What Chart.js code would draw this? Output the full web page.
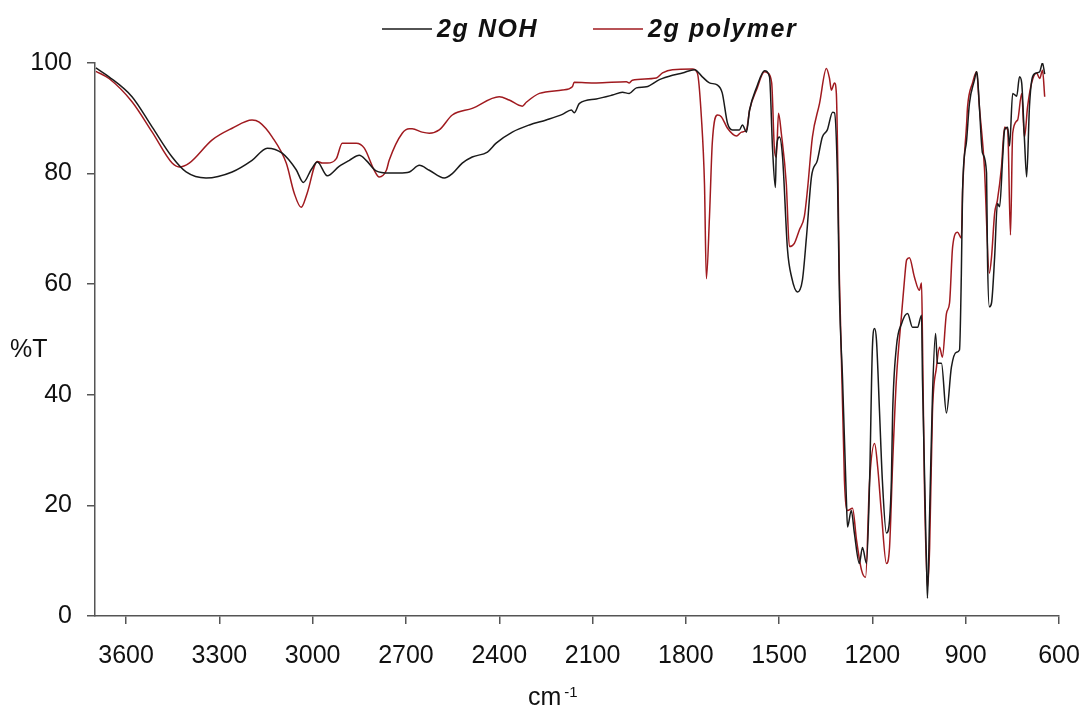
<!DOCTYPE html>
<html><head><meta charset="utf-8">
<script src="https://cdn.jsdelivr.net/npm/chart.js@4/dist/chart.umd.min.js"></script>
<style>html,body{margin:0;padding:0;background:#fff;}</style>
</head><body>
<canvas id="c" width="1087" height="708"></canvas>
<script>
// ---- DATA ----
const seriesLabels = ['2g NOH', '2g polymer'];

const nohWavenumber = [3697,3655,3581,3516,3452,3407,3343,3259,3195,3146,3098,3053,3030,3005,2985,2953,2915,2882,2850,2828,2796,2754,2722,2689,2657,2625,2577,2551,2519,2487,2438,2410,2358,2303,2249,2197,2168,2159,2142,2088,2036,2004,1982,1959,1927,1885,1843,1811,1772,1747,1724,1698,1683,1666,1650,1628,1618,1605,1595,1573,1547,1531,1521,1512,1509,1499,1489,1473,1460,1441,1425,1412,1396,1377,1361,1345,1328,1322,1312,1306,1296,1284,1280,1268,1258,1242,1232,1219,1209,1200,1193,1187,1177,1168,1155,1145,1139,1135,1123,1106,1087,1071,1055,1042,1039,1026,1023,1016,1007,997,991,978,962,946,930,920,914,910,897,888,872,865,862,856,846,833,830,824,817,807,798,791,781,775,765,759,749,736,727,720,711,704,695,685,672,662,656,653,646];
const nohTransmittance = [99.1,97.5,93.9,88.4,83.0,80.3,79.2,80.3,82.4,84.6,83.7,80.7,78.4,80.7,82.1,79.6,81.3,82.4,83.3,82.4,80.5,80.1,80.1,80.3,81.5,80.6,79.2,80.0,81.9,83.0,83.9,85.5,87.5,88.8,89.7,90.7,91.5,91.0,92.7,93.5,94.2,94.7,94.5,95.5,95.7,97.0,97.8,98.2,98.8,97.5,96.4,96.0,94.6,89.1,87.9,87.9,88.8,87.5,91.5,95.5,98.6,97.5,84.3,77.5,84.3,86.6,83.0,66.2,61.3,58.6,60.8,68.6,79.4,82.4,86.6,87.9,91.1,91.0,78.2,57.7,42.7,21.5,16.1,19.1,15.0,9.5,12.4,9.5,24.5,48.6,52.0,49.9,36.7,24.5,15.0,17.3,24.5,36.7,48.6,52.9,54.7,52.2,52.2,54.4,42.7,9.5,3.2,18.6,39.6,51.1,45.7,45.7,36.7,45.0,47.7,48.1,62.0,77.0,86.1,92.7,96.9,98.4,97.5,92.1,83.7,80.1,64.9,55.9,56.6,64.9,74.6,74.0,83.0,87.9,88.4,85.0,94.5,94.0,97.5,96.4,86.1,79.4,92.1,97.5,98.2,98.4,99.6,100,98.0];

const polymerWavenumber = [3697,3655,3581,3516,3452,3429,3397,3323,3259,3195,3172,3130,3085,3059,3037,3018,2985,2969,2953,2924,2905,2860,2834,2802,2786,2763,2754,2712,2689,2680,2648,2625,2593,2551,2487,2400,2368,2326,2313,2271,2197,2165,2159,2088,1991,1982,1972,1895,1875,1843,1779,1763,1750,1740,1734,1724,1715,1698,1686,1666,1637,1621,1605,1595,1573,1547,1537,1524,1515,1509,1502,1493,1477,1467,1451,1435,1419,1409,1393,1370,1348,1338,1332,1322,1316,1306,1290,1280,1264,1251,1235,1222,1209,1193,1183,1171,1155,1145,1135,1123,1106,1097,1090,1081,1065,1049,1042,1039,1033,1023,1016,1007,994,984,975,962,952,942,926,914,910,897,894,878,865,856,840,824,817,807,798,785,775,765,756,749,733,720,711,701,688,672,662,653,646];
const polymerTransmittance = [98.5,97.2,93.0,87.5,81.9,81.2,81.9,86.1,88.2,89.7,89.3,86.6,81.9,76.4,73.9,76.4,82.2,81.9,81.9,82.7,85.5,85.5,84.6,80.6,79.4,80.6,82.4,87.3,88.1,88.1,87.5,87.3,87.9,90.6,91.8,93.9,93.3,92.2,92.9,94.5,95.1,95.7,96.5,96.4,96.6,96.4,96.9,97.3,98.2,98.8,98.9,98.2,90.2,78.0,61.0,72.2,85.5,90.6,90.3,88.2,86.8,87.5,87.9,91.5,95.1,98.4,98.2,96.4,84.3,83.0,90.9,87.3,78.2,66.8,67.4,69.8,72.2,77.0,86.6,92.7,99.0,97.2,95.1,96.4,94.5,60.7,24.5,19.1,19.5,13.7,8.3,7.0,24.5,31.2,26.9,18.6,9.5,12.4,27.6,42.7,54.7,60.7,64.4,64.8,61.3,58.9,60.2,49.9,24.5,5.2,12.4,36.7,45.0,48.6,46.8,54.7,56.6,66.8,69.4,68.3,77.0,89.1,92.1,96.4,98.4,92.1,81.2,62.0,64.9,72.8,75.2,81.2,88.4,87.9,68.9,87.3,89.7,94.5,86.6,92.1,96.4,98.2,97.2,98.7,93.9];

const xTickValues = [3600,3300,3000,2700,2400,2100,1800,1500,1200,900,600];
const yTickValues = [0,20,40,60,80,100];
const yAxisTitle = '%T';
const xAxisTitle = 'cm';
const xAxisTitleSup = '-1';

// ---- CHART ----
const FONT = "'Liberation Sans', Arial, sans-serif";
const seriesColors = ['#1a1a1a', '#a01a1f'];
const toPoints = (xs, ys) => xs.map((x, i) => ({x: x, y: ys[i]}));

const extras = {
  id: 'extras',
  afterDraw(chart) {
    const c = chart.ctx;
    c.save();
    // legend
    const legendX = [382, 593];
    const legendY = 29;
    c.font = "italic bold 25px " + FONT;
    try { c.letterSpacing = '1.6px'; } catch (e) {}
    c.textBaseline = 'middle';
    c.textAlign = 'left';
    chart.data.datasets.forEach((ds, i) => {
      const x0 = legendX[i];
      c.strokeStyle = ds.borderColor;
      c.lineWidth = 1.5;
      c.beginPath(); c.moveTo(x0, legendY); c.lineTo(x0 + 50, legendY); c.stroke();
      c.fillStyle = '#111';
      c.fillText(ds.label, x0 + 55, legendY + 1);
    });
    try { c.letterSpacing = '0px'; } catch (e) {}
    // y title (horizontal)
    c.font = "25px " + FONT;
    c.fillStyle = '#111';
    c.textBaseline = 'middle';
    c.fillText(yAxisTitle, 10, 350);
    // x title with superscript
    c.textBaseline = 'alphabetic';
    c.fillText(xAxisTitle, 528, 705);
    const w = c.measureText(xAxisTitle).width;
    c.font = "15px " + FONT;
    c.fillText(xAxisTitleSup, 528 + w + 3, 697);
    c.restore();
  }
};

new Chart(document.getElementById('c'), {
  type: 'line',
  data: {
    datasets: [
      {label: seriesLabels[0], data: toPoints(nohWavenumber, nohTransmittance), borderColor: seriesColors[0], borderWidth: 1.5, pointRadius: 0, cubicInterpolationMode: 'monotone', fill: false},
      {label: seriesLabels[1], data: toPoints(polymerWavenumber, polymerTransmittance), borderColor: seriesColors[1], borderWidth: 1.5, pointRadius: 0, cubicInterpolationMode: 'monotone', fill: false}
    ]
  },
  options: {
    responsive: false,
    animation: false,
    devicePixelRatio: 1,
    layout: {padding: {left: 0, right: 28, top: 63, bottom: 0}},
    plugins: {legend: {display: false}, tooltip: {enabled: false}},
    scales: {
      x: {
        type: 'linear', reverse: true, min: 600, max: 3700,
        afterBuildTicks: s => { s.ticks = xTickValues.map(v => ({value: v})); },
        afterFit: s => { s.height = 92; s.paddingLeft = 0; s.paddingRight = 0; },
        grid: {display: true, drawOnChartArea: false, drawTicks: true, tickLength: 8, color: '#555', lineWidth: 1.5},
        border: {display: true, color: '#555', width: 1.5},
        ticks: {font: {family: FONT, size: 25}, color: '#111', padding: 17, maxRotation: 0, autoSkip: false, callback: v => String(v)}
      },
      y: {
        min: 0, max: 100,
        afterBuildTicks: s => { s.ticks = yTickValues.map(v => ({value: v})); },
        afterFit: s => { s.width = 95; s.paddingTop = 0; s.paddingBottom = 0; },
        grid: {display: true, drawOnChartArea: false, drawTicks: true, tickLength: 8, color: '#555', lineWidth: 1.5},
        border: {display: true, color: '#555', width: 1.5},
        ticks: {font: {family: FONT, size: 25}, color: '#111', padding: 15, callback: v => String(v)}
      }
    }
  },
  plugins: [extras]
});
</script>
</body></html>
